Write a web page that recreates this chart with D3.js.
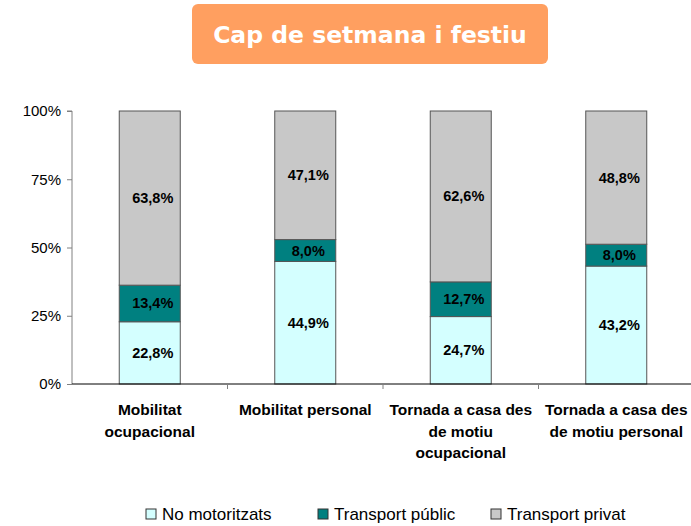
<!DOCTYPE html>
<html lang="ca">
<head>
  <meta charset="UTF-8" />
  <title>Cap de setmana i festiu</title>
  <script src="https://d3js.org/d3.v7.min.js"></script>
  <style>
    body { margin: 0; background: #fff; }
    svg { display: block; font-family: "Liberation Sans", Arial, sans-serif; }
    .tick text { font-size: 15px; fill: #000; }
    .lbl { font-size: 14.5px; font-weight: bold; text-anchor: middle; fill: #000; }
    .cat { font-size: 15.5px; font-weight: bold; text-anchor: middle; fill: #000; }
  </style>
</head>
<body>
  <svg width="691" height="526"></svg>
  <script>
    // dades
    const categories = [
      ["Mobilitat", "ocupacional"],
      ["Mobilitat personal"],
      ["Tornada a casa des", "de motiu", "ocupacional"],
      ["Tornada a casa des", "de motiu personal"]
    ];
    const noMotoritzats = [22.8, 44.9, 24.7, 43.2];
    const transportPublic = [13.4, 8.0, 12.7, 8.0];
    const transportPrivat = [63.8, 47.1, 62.6, 48.8];
    const seriesNames = ["No motoritzats", "Transport públic", "Transport privat"];
    const colors = ["#d4ffff", "#008080", "#c8c8c8"];
    const yTicks = [0, 25, 50, 75, 100];

    const svg = d3.select("svg");
    const x0 = 72, x1 = 694, yTop = 111, yBot = 384;

    // títol
    svg.append("rect")
      .attr("x", 192).attr("y", 4).attr("width", 356).attr("height", 60)
      .attr("rx", 6).attr("fill", "#ff9f60");
    svg.append("text")
      .attr("x", 370).attr("y", 43)
      .attr("text-anchor", "middle")
      .style("font-family", "'DejaVu Sans', Verdana, sans-serif")
      .style("font-weight", "bold").style("font-size", "23.5px")
      .attr("fill", "#fff")
      .text("Cap de setmana i festiu");

    const x = d3.scaleBand().domain(d3.range(categories.length)).range([x0, x1]);
    const y = d3.scaleLinear().domain([0, 100]).range([yBot, yTop]);

    const rows = categories.map((c, i) => ({
      i, vals: [noMotoritzats[i], transportPublic[i], transportPrivat[i]]
    }));
    const stack = d3.stack().keys([0, 1, 2]).value((d, k) => d.vals[k]);
    const layers = stack(rows);

    const barW = 61;
    layers.forEach((layer, k) => {
      const g = svg.append("g");
      g.selectAll("rect").data(layer).join("rect")
        .attr("x", d => x(d.data.i) + x.bandwidth() / 2 - barW / 2)
        .attr("y", d => y(d[1]))
        .attr("width", barW)
        .attr("height", d => y(d[0]) - y(d[1]))
        .attr("fill", colors[k])
        .attr("stroke", "#555").attr("stroke-width", 1);
      g.selectAll("text").data(layer).join("text")
        .attr("class", "lbl")
        .attr("x", d => x(d.data.i) + x.bandwidth() / 2 + 3)
        .attr("y", d => (y(d[0]) + y(d[1])) / 2 + 5)
        .text(d => d3.format(".1f")(d.data.vals[k]).replace(".", ",") + "%");
    });

    // eixos
    const yAxis = svg.append("g").attr("transform", `translate(${x0},0)`)
      .call(d3.axisLeft(y).tickValues(yTicks).tickSize(5).tickPadding(6).tickFormat(d => d + "%"));
    yAxis.select(".domain").attr("stroke", "#808080").attr("d", `M-5,${yTop}H0V${yBot}`);
    yAxis.selectAll(".tick line").attr("stroke", "#808080");

    const xAxis = svg.append("g").attr("transform", `translate(0,${yBot})`);
    xAxis.append("line").attr("x1", x0).attr("x2", x1).attr("stroke", "#000");
    xAxis.selectAll(".sep").data(d3.range(1, categories.length)).join("line")
      .attr("x1", d => x(d)).attr("x2", d => x(d))
      .attr("y1", 0).attr("y2", 5).attr("stroke", "#808080");

    categories.forEach((lines, i) => {
      const cx = x(i) + x.bandwidth() / 2;
      const t = svg.append("text").attr("class", "cat")
        .attr("x", cx).attr("y", 415);
      lines.forEach((l, j) => t.append("tspan")
        .attr("x", cx).attr("dy", j ? 21.5 : 0).text(l));
    });

    // llegenda
    const legX = [146, 318, 491];
    const leg = svg.append("g");
    seriesNames.forEach((n, k) => {
      leg.append("rect").attr("x", legX[k]).attr("y", 509).attr("width", 10).attr("height", 10)
        .attr("fill", colors[k]).attr("stroke", "#333");
      leg.append("text").attr("x", legX[k] + 16).attr("y", 520)
        .style("font-size", "17px").text(n);
    });
  </script>
</body>
</html>
